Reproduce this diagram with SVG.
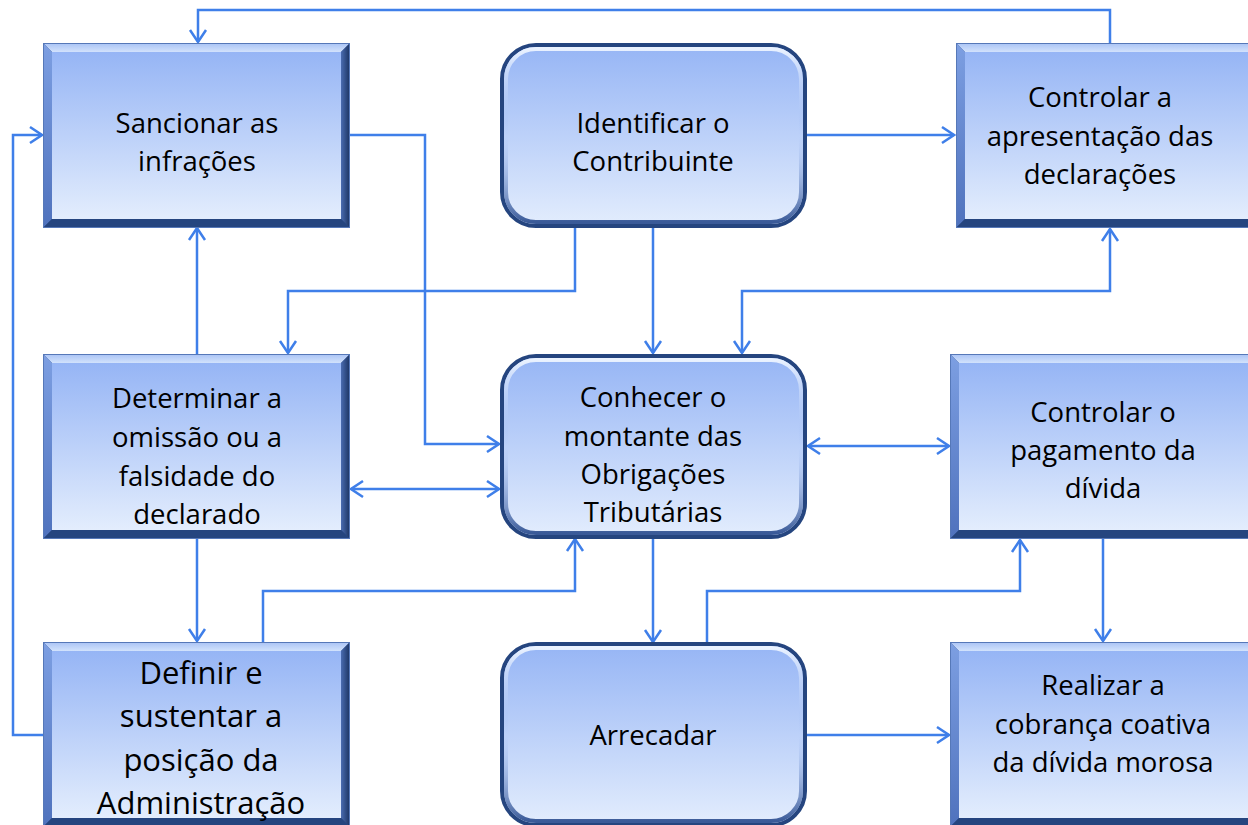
<svg xmlns="http://www.w3.org/2000/svg" width="1248" height="825" viewBox="0 0 1248 825">
<style>
.t{font-family:"Open Sans","Liberation Sans",sans-serif;font-size:27.5px;fill:#000;text-anchor:middle}
.tb{font-family:"Open Sans","Liberation Sans",sans-serif;font-size:31px;fill:#000;text-anchor:middle}
.c{fill:none;stroke:#3f7fe9;stroke-width:2.5}
</style>
<defs>
<linearGradient id="gFace" x1="0" y1="0" x2="0" y2="1">
<stop offset="0" stop-color="#96b5f5"/><stop offset="1" stop-color="#e3edfd"/>
</linearGradient>
<linearGradient id="gTop" x1="0" y1="0" x2="0" y2="1">
<stop offset="0" stop-color="#a9c3f5"/><stop offset="1" stop-color="#d2e2fc"/>
</linearGradient>
<linearGradient id="gLeft" x1="0" y1="0" x2="0" y2="1">
<stop offset="0" stop-color="#7d9fe2"/><stop offset="1" stop-color="#4f72bd"/>
</linearGradient>
<linearGradient id="gRight" x1="0" y1="0" x2="1" y2="0">
<stop offset="0" stop-color="#4a6cb0"/><stop offset="1" stop-color="#1a3260"/>
</linearGradient>
<linearGradient id="gInner" x1="0" y1="0" x2="0" y2="1">
<stop offset="0" stop-color="#eaf2ff"/><stop offset="0.5" stop-color="#9ab8f2" stop-opacity="0"/><stop offset="1" stop-color="#3a5a98"/>
</linearGradient>
<symbol id="bevel" viewBox="0 0 307 185" width="307" height="185" overflow="visible">
<rect x="0" y="0" width="307" height="185" fill="#2b4c8a"/>
<polygon points="0,0 307,0 298,9 9,9" fill="url(#gTop)"/>
<polygon points="0,0 9,9 9,176 0,185" fill="url(#gLeft)"/>
<polygon points="307,0 307,185 298,176 298,9" fill="url(#gRight)"/>
<polygon points="0,185 9,176 298,176 307,185" fill="#25457f"/>
<rect x="9" y="9" width="289" height="167" fill="url(#gFace)"/>
<rect x="0.5" y="0.5" width="306" height="184" fill="none" stroke="#5678b8" stroke-width="1"/>
</symbol>
<symbol id="round" viewBox="0 0 307 185" width="307" height="185" overflow="visible">
<rect x="2" y="2" width="303" height="181" rx="34" fill="url(#gFace)" stroke="#25457f" stroke-width="4"/>
<rect x="6" y="6" width="295" height="173" rx="30" fill="none" stroke="url(#gInner)" stroke-width="4"/>
</symbol>
<marker id="ar" viewBox="-14 -10 16 20" markerWidth="16" markerHeight="20" refX="0" refY="0" orient="auto-start-reverse" markerUnits="userSpaceOnUse">
<path d="M-12,-8 L0,0 L-12,8" fill="none" stroke="#3f7fe9" stroke-width="2.5"/>
</marker>
</defs>

<g id="connectors">
<path class="c" d="M1110,43 V10 H198 V42" marker-end="url(#ar)"/>
<path class="c" d="M43,735 H13 V135 H42" marker-end="url(#ar)"/>
<path class="c" d="M350,135 H425 V444 H499" marker-end="url(#ar)"/>
<path class="c" d="M807,135 H954" marker-end="url(#ar)"/>
<path class="c" d="M575,227 V291 H288 V353" marker-end="url(#ar)"/>
<path class="c" d="M653,227 V353" marker-end="url(#ar)"/>
<path class="c" d="M742,353 V291 H1110 V229" marker-start="url(#ar)" marker-end="url(#ar)"/>
<path class="c" d="M197,354 V228" marker-end="url(#ar)"/>
<path class="c" d="M351,489 H499" marker-start="url(#ar)" marker-end="url(#ar)"/>
<path class="c" d="M197,539 V641" marker-end="url(#ar)"/>
<path class="c" d="M263,642 V591 H575 V539" marker-end="url(#ar)"/>
<path class="c" d="M653,538 V642" marker-end="url(#ar)"/>
<path class="c" d="M707,643 V591 H1020 V540" marker-end="url(#ar)"/>
<path class="c" d="M808,446 H949" marker-start="url(#ar)" marker-end="url(#ar)"/>
<path class="c" d="M1103,539 V641" marker-end="url(#ar)"/>
<path class="c" d="M807,735 H949" marker-end="url(#ar)"/>
</g>

<g id="n1"><use href="#bevel" x="43" y="43"/>
<text class="t" x="197" y="133">Sancionar as</text><text class="t" x="197" y="171">infrações</text></g>
<g id="n2"><use href="#round" x="500" y="43"/>
<text class="t" x="653" y="133">Identificar o</text><text class="t" x="653" y="171">Contribuinte</text></g>
<g id="n3"><use href="#bevel" x="956" y="43"/>
<text class="t" x="1100" y="107">Controlar a</text><text class="t" x="1100" y="146">apresentação das</text><text class="t" x="1100" y="184">declarações</text></g>
<g id="n4"><use href="#bevel" x="43" y="354"/>
<text class="t" x="197" y="408">Determinar a</text><text class="t" x="197" y="447">omissão ou a</text><text class="t" x="197" y="486">falsidade do</text><text class="t" x="197" y="524">declarado</text></g>
<g id="n5"><use href="#round" x="500" y="354"/>
<text class="t" x="653" y="407">Conhecer o</text><text class="t" x="653" y="446">montante das</text><text class="t" x="653" y="484">Obrigações</text><text class="t" x="653" y="522">Tributárias</text></g>
<g id="n6"><use href="#bevel" x="950" y="354"/>
<text class="t" x="1103" y="422">Controlar o</text><text class="t" x="1103" y="460">pagamento da</text><text class="t" x="1103" y="498">dívida</text></g>
<g id="n7"><use href="#bevel" x="43" y="642"/>
<text class="tb" x="201" y="684">Definir e</text><text class="tb" x="201" y="727">sustentar a</text><text class="tb" x="201" y="771">posição da</text><text class="tb" x="201" y="814">Administração</text></g>
<g id="n8"><use href="#round" x="500" y="642"/>
<text class="t" x="653" y="745">Arrecadar</text></g>
<g id="n9"><use href="#bevel" x="950" y="642"/>
<text class="t" x="1103" y="695">Realizar a</text><text class="t" x="1103" y="734">cobrança coativa</text><text class="t" x="1103" y="772">da dívida morosa</text></g>
</svg>
